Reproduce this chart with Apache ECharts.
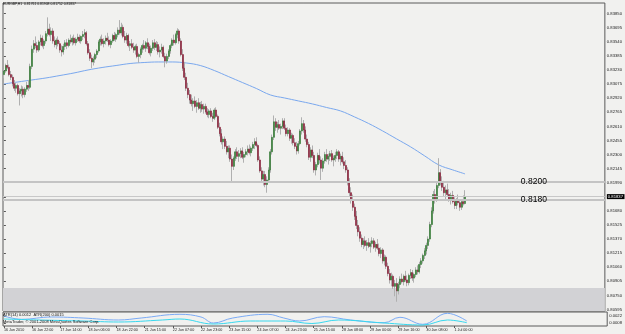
<!DOCTYPE html>
<html><head><meta charset="utf-8">
<script src="https://cdn.jsdelivr.net/npm/echarts@6/dist/echarts.min.js"></script>
<style>html,body{margin:0;padding:0;background:#f1f1ef}#c{width:625px;height:334px}</style>
</head><body><div id="c"></div>
<script>
const titleText = 'EURGBP,H1  0.81761 0.81908 0.81752 0.81837';
const atrText = 'ATR(14) 0.0012  ATR(200) 0.0015';
const copyText = 'MetaTrader, \u00a9 2001-2008 MetaQuotes Software Corp.';
const xLabels = ['16 Jun 2010','16 Jun 22:00','17 Jun 14:00','18 Jun 06:00','18 Jun 22:00','21 Jun 15:00','22 Jun 07:00','22 Jun 23:00','23 Jun 15:00','24 Jun 07:00','24 Jun 23:00','25 Jun 15:00','28 Jun 08:00','29 Jun 00:00','29 Jun 16:00','30 Jun 08:00','1 Jul 00:00'];
const barsPerLabel = 16;
const priceTicks = [0.80595,0.80750,0.80905,0.81060,0.81215,0.81370,0.81525,0.81680,0.81835,0.81990,0.82145,0.82300,0.82455,0.82610,0.82765,0.82920,0.83075,0.83230,0.83385,0.83540,0.83695,0.83850];
const atrTicks = [0.0008, 0.0022];
const levels = [0.8200, 0.8180];
const bidPrice = 0.81837;
const bandTop = 0.8083;
// [open, high, low, close]
const candles = [
[0.8318,0.8324,0.8314,0.8322],[0.8322,0.8330,0.8320,0.8328],[0.8328,0.8334,0.8324,0.8326],[0.8326,0.8329,0.8316,0.8318],[0.8318,0.8322,0.8312,0.8315],
[0.8315,0.8318,0.8305,0.8308],[0.8308,0.8312,0.8300,0.8303],[0.8303,0.8309,0.8298,0.8306],[0.8306,0.8308,0.8295,0.8297],[0.8297,0.8303,0.8284,0.8300],
[0.8300,0.8306,0.8294,0.8302],[0.8302,0.8305,0.8292,0.8296],[0.8296,0.8304,0.8293,0.8302],[0.8302,0.8310,0.8299,0.8306],[0.8306,0.8312,0.8300,0.8304],
[0.8304,0.8330,0.8302,0.8327],[0.8327,0.8350,0.8324,0.8346],[0.8346,0.8356,0.8342,0.8352],[0.8352,0.8360,0.8347,0.8350],[0.8350,0.8354,0.8342,0.8345],
[0.8345,0.8356,0.8343,0.8354],[0.8354,0.8362,0.8350,0.8358],[0.8358,0.8361,0.8348,0.8350],[0.8350,0.8357,0.8346,0.8355],[0.8355,0.8366,0.8352,0.8363],
[0.8363,0.8381,0.8360,0.8368],[0.8368,0.8374,0.8360,0.8362],[0.8362,0.8370,0.8355,0.8366],[0.8366,0.8369,0.8352,0.8355],[0.8355,0.8360,0.8348,0.8351],
[0.8351,0.8358,0.8346,0.8356],[0.8356,0.8360,0.8349,0.8352],[0.8352,0.8355,0.8342,0.8345],[0.8345,0.8350,0.8338,0.8343],[0.8343,0.8352,0.8340,0.8349],
[0.8349,0.8356,0.8345,0.8353],[0.8353,0.8357,0.8346,0.8350],[0.8350,0.8358,0.8348,0.8356],[0.8356,0.8362,0.8352,0.8354],[0.8354,0.8360,0.8350,0.8358],
[0.8358,0.8362,0.8351,0.8353],[0.8353,0.8359,0.8350,0.8357],[0.8357,0.8363,0.8354,0.8359],[0.8359,0.8362,0.8353,0.8355],[0.8355,0.8361,0.8352,0.8360],
[0.8360,0.8366,0.8356,0.8362],[0.8362,0.8368,0.8358,0.8364],[0.8364,0.8366,0.8350,0.8352],[0.8352,0.8355,0.8340,0.8342],[0.8342,0.8346,0.8333,0.8336],
[0.8336,0.8340,0.8325,0.8332],[0.8332,0.8338,0.8328,0.8335],[0.8335,0.8342,0.8331,0.8340],[0.8340,0.8346,0.8336,0.8344],[0.8344,0.8356,0.8342,0.8354],
[0.8354,0.8360,0.8350,0.8357],[0.8357,0.8362,0.8350,0.8352],[0.8352,0.8358,0.8348,0.8355],[0.8355,0.8361,0.8351,0.8358],[0.8358,0.8364,0.8354,0.8356],
[0.8356,0.8360,0.8349,0.8351],[0.8351,0.8357,0.8347,0.8355],[0.8355,0.8363,0.8353,0.8361],[0.8361,0.8365,0.8355,0.8357],[0.8357,0.8364,0.8354,0.8362],
[0.8362,0.8370,0.8359,0.8367],[0.8367,0.8378,0.8362,0.8364],[0.8364,0.8375,0.8361,0.8370],[0.8370,0.8373,0.8358,0.8360],[0.8360,0.8366,0.8353,0.8356],
[0.8356,0.8364,0.8352,0.8361],[0.8361,0.8363,0.8348,0.8350],[0.8350,0.8355,0.8344,0.8352],[0.8352,0.8357,0.8346,0.8348],[0.8348,0.8353,0.8342,0.8345],
[0.8345,0.8351,0.8340,0.8349],[0.8349,0.8352,0.8336,0.8338],[0.8338,0.8342,0.8331,0.8340],[0.8340,0.8348,0.8336,0.8346],[0.8346,0.8352,0.8342,0.8350],
[0.8350,0.8356,0.8345,0.8347],[0.8347,0.8355,0.8343,0.8353],[0.8353,0.8358,0.8346,0.8349],[0.8349,0.8352,0.8340,0.8342],[0.8342,0.8350,0.8338,0.8347],
[0.8347,0.8356,0.8344,0.8353],[0.8353,0.8357,0.8345,0.8348],[0.8348,0.8355,0.8344,0.8351],[0.8351,0.8354,0.8340,0.8343],[0.8343,0.8349,0.8337,0.8345],
[0.8345,0.8352,0.8341,0.8348],[0.8348,0.8350,0.8336,0.8338],[0.8338,0.8342,0.8326,0.8333],[0.8333,0.8341,0.8330,0.8338],[0.8338,0.8346,0.8335,0.8344],
[0.8344,0.8352,0.8341,0.8350],[0.8350,0.8358,0.8347,0.8356],[0.8356,0.8362,0.8350,0.8353],[0.8353,0.8364,0.8351,0.8362],[0.8362,0.8369,0.8358,0.8366],
[0.8366,0.8368,0.8352,0.8355],[0.8355,0.8358,0.8338,0.8340],[0.8340,0.8346,0.8322,0.8325],[0.8325,0.8332,0.8312,0.8315],[0.8315,0.8320,0.8300,0.8303],
[0.8303,0.8309,0.8292,0.8296],[0.8296,0.8301,0.8286,0.8290],[0.8290,0.8296,0.8283,0.8286],[0.8286,0.8292,0.8278,0.8289],[0.8289,0.8294,0.8281,0.8283],
[0.8283,0.8290,0.8276,0.8287],[0.8287,0.8292,0.8279,0.8281],[0.8281,0.8288,0.8276,0.8285],[0.8285,0.8289,0.8277,0.8280],[0.8280,0.8286,0.8275,0.8283],
[0.8283,0.8286,0.8275,0.8277],[0.8277,0.8281,0.8271,0.8274],[0.8274,0.8280,0.8270,0.8278],[0.8278,0.8281,0.8270,0.8272],[0.8272,0.8276,0.8266,0.8270],
[0.8270,0.8281,0.8268,0.8279],[0.8279,0.8282,0.8270,0.8272],[0.8272,0.8274,0.8258,0.8260],[0.8260,0.8265,0.8250,0.8253],[0.8253,0.8258,0.8241,0.8244],
[0.8244,0.8250,0.8236,0.8247],[0.8247,0.8250,0.8236,0.8239],[0.8239,0.8245,0.8230,0.8233],[0.8233,0.8240,0.8226,0.8237],[0.8237,0.8240,0.8222,0.8225],
[0.8225,0.8230,0.8200,0.8217],[0.8217,0.8228,0.8213,0.8226],[0.8226,0.8236,0.8223,0.8233],[0.8233,0.8238,0.8225,0.8228],[0.8228,0.8235,0.8222,0.8231],
[0.8231,0.8237,0.8226,0.8234],[0.8234,0.8238,0.8225,0.8227],[0.8227,0.8233,0.8221,0.8230],[0.8230,0.8236,0.8227,0.8233],[0.8233,0.8240,0.8229,0.8236],
[0.8236,0.8241,0.8230,0.8232],[0.8232,0.8239,0.8228,0.8237],[0.8237,0.8244,0.8234,0.8241],[0.8241,0.8248,0.8236,0.8244],[0.8244,0.8249,0.8238,0.8240],
[0.8240,0.8242,0.8222,0.8224],[0.8224,0.8228,0.8210,0.8212],[0.8212,0.8216,0.8200,0.8203],[0.8203,0.8212,0.8196,0.8208],[0.8208,0.8212,0.8194,0.8197],
[0.8197,0.8206,0.8188,0.8202],[0.8202,0.8216,0.8199,0.8213],[0.8213,0.8236,0.8210,0.8233],[0.8233,0.8252,0.8230,0.8249],[0.8249,0.8273,0.8246,0.8266],
[0.8266,0.8270,0.8256,0.8260],[0.8260,0.8266,0.8254,0.8263],[0.8263,0.8268,0.8257,0.8259],[0.8259,0.8264,0.8252,0.8261],[0.8261,0.8270,0.8258,0.8267],
[0.8267,0.8270,0.8257,0.8259],[0.8259,0.8263,0.8250,0.8253],[0.8253,0.8260,0.8250,0.8257],[0.8257,0.8259,0.8245,0.8248],[0.8248,0.8254,0.8242,0.8251],
[0.8251,0.8253,0.8240,0.8243],[0.8243,0.8248,0.8236,0.8239],[0.8239,0.8244,0.8230,0.8234],[0.8234,0.8245,0.8231,0.8242],[0.8242,0.8258,0.8240,0.8256],
[0.8256,0.8271,0.8252,0.8264],[0.8264,0.8268,0.8254,0.8257],[0.8257,0.8261,0.8244,0.8247],[0.8247,0.8252,0.8238,0.8241],[0.8241,0.8244,0.8224,0.8227],
[0.8227,0.8238,0.8222,0.8235],[0.8235,0.8240,0.8226,0.8229],[0.8229,0.8233,0.8210,0.8213],[0.8213,0.8222,0.8207,0.8219],[0.8219,0.8232,0.8216,0.8229],
[0.8229,0.8236,0.8220,0.8224],[0.8224,0.8228,0.8202,0.8215],[0.8215,0.8226,0.8211,0.8223],[0.8223,0.8233,0.8220,0.8230],[0.8230,0.8236,0.8222,0.8225],
[0.8225,0.8231,0.8219,0.8228],[0.8228,0.8234,0.8223,0.8231],[0.8231,0.8235,0.8222,0.8224],[0.8224,0.8229,0.8217,0.8226],[0.8226,0.8233,0.8222,0.8229],
[0.8229,0.8236,0.8225,0.8233],[0.8233,0.8235,0.8222,0.8225],[0.8225,0.8231,0.8218,0.8228],[0.8228,0.8233,0.8220,0.8222],[0.8222,0.8227,0.8214,0.8218],
[0.8218,0.8224,0.8210,0.8213],[0.8213,0.8216,0.8196,0.8199],[0.8199,0.8204,0.8184,0.8188],[0.8188,0.8194,0.8176,0.8180],[0.8180,0.8186,0.8168,0.8172],
[0.8172,0.8176,0.8158,0.8162],[0.8162,0.8168,0.8148,0.8152],[0.8152,0.8158,0.8140,0.8145],[0.8145,0.8150,0.8134,0.8138],[0.8138,0.8142,0.8128,0.8131],
[0.8131,0.8138,0.8126,0.8135],[0.8135,0.8140,0.8128,0.8130],[0.8130,0.8136,0.8124,0.8133],[0.8133,0.8138,0.8127,0.8129],[0.8129,0.8135,0.8122,0.8132],
[0.8132,0.8139,0.8128,0.8135],[0.8135,0.8138,0.8126,0.8128],[0.8128,0.8134,0.8123,0.8131],[0.8131,0.8137,0.8125,0.8127],[0.8127,0.8132,0.8118,0.8121],
[0.8121,0.8128,0.8116,0.8125],[0.8125,0.8127,0.8110,0.8113],[0.8113,0.8120,0.8108,0.8117],[0.8117,0.8119,0.8104,0.8107],[0.8107,0.8111,0.8096,0.8099],
[0.8099,0.8104,0.8088,0.8092],[0.8092,0.8100,0.8085,0.8096],[0.8096,0.8098,0.8082,0.8085],[0.8085,0.8092,0.8074,0.8088],[0.8088,0.8094,0.8068,0.8080],
[0.8080,0.8090,0.8076,0.8087],[0.8087,0.8096,0.8083,0.8093],[0.8093,0.8099,0.8088,0.8090],[0.8090,0.8098,0.8086,0.8096],[0.8096,0.8102,0.8090,0.8092],
[0.8092,0.8097,0.8085,0.8089],[0.8089,0.8099,0.8086,0.8097],[0.8097,0.8104,0.8093,0.8100],[0.8100,0.8103,0.8091,0.8094],[0.8094,0.8100,0.8089,0.8098],
[0.8098,0.8106,0.8095,0.8103],[0.8103,0.8108,0.8098,0.8101],[0.8101,0.8112,0.8099,0.8109],[0.8109,0.8116,0.8105,0.8113],[0.8113,0.8121,0.8110,0.8119],
[0.8119,0.8127,0.8115,0.8124],[0.8124,0.8133,0.8120,0.8130],[0.8130,0.8140,0.8126,0.8137],[0.8137,0.8156,0.8134,0.8153],[0.8153,0.8172,0.8150,0.8168],
[0.8168,0.8190,0.8165,0.8186],[0.8186,0.8192,0.8176,0.8181],[0.8181,0.8200,0.8178,0.8196],[0.8196,0.8226,0.8193,0.8210],[0.8210,0.8214,0.8196,0.8199],
[0.8199,0.8206,0.8190,0.8194],[0.8194,0.8201,0.8184,0.8188],[0.8188,0.8196,0.8181,0.8191],[0.8191,0.8198,0.8184,0.8186],[0.8186,0.8192,0.8178,0.8181],
[0.8181,0.8188,0.8175,0.8185],[0.8185,0.8190,0.8176,0.8178],[0.8178,0.8183,0.8170,0.8174],[0.8174,0.8182,0.8170,0.8179],[0.8179,0.8186,0.8174,0.8177],
[0.8177,0.8181,0.8168,0.8172],[0.8172,0.8180,0.8169,0.8178],[0.8178,0.8185,0.8174,0.8176],[0.81761,0.81908,0.81752,0.81837]
];
// moving average: [bar index, value]
const maPoints = [[0,0.83077],[8,0.83099],[16,0.83121],[24,0.83143],[32,0.83170],[40,0.83198],[48,0.83231],[56,0.83258],[64,0.83280],[72,0.83302],[80,0.83313],[88,0.83319],[96,0.83319],[104,0.83308],[112,0.83280],[120,0.83225],[128,0.83159],[136,0.83093],[144,0.83027],[152,0.82956],[160,0.82923],[168,0.82890],[176,0.82857],[184,0.82818],[192,0.82780],[200,0.82714],[208,0.82642],[216,0.82560],[224,0.82472],[232,0.82384],[240,0.82285],[248,0.82186],[256,0.82131],[263,0.82087]];
const atr14 = [[0,0.0022],[10,0.00154],[27,0.0020],[45,0.0018],[65,0.0014],[78,0.0018],[100,0.00254],[112,0.0020],[119,0.0008],[130,0.0018],[150,0.00254],[159,0.0018],[168,0.0012],[182,0.00206],[197,0.0014],[216,0.00086],[225,0.00194],[238,0.00054],[252,0.00274],[263,0.0012]];
const atr200 = [[0,0.0016],[20,0.0014],[45,0.0012],[65,0.0010],[90,0.0014],[100,0.0016],[119,0.0006],[140,0.0012],[160,0.0012],[175,0.0007],[190,0.0014],[216,0.0008],[238,0.0004],[252,0.0014],[263,0.00086]];

const chart = echarts.init(document.getElementById('c'), null, {renderer:'canvas'});
const font = 'Liberation Sans';
const wickData = candles.map((d,i)=>[i, d[0], d[3], d[2], d[1]]);
const bodyData = candles.map((d,i)=>[i, d[0], d[3], Math.min(d[0],d[3]), Math.max(d[0],d[3])]);
const xTickVals = xLabels.map((_,k)=>k*barsPerLabel);
const xMin = -0.5, xMax = 342.75;
const priceMin = 0.80578, priceMax = 0.83968;

chart.setOption({
  animation:false,
  backgroundColor:'#f1f1ef',
  textStyle:{fontFamily:font},
  title:[
    {text:titleText, left:3, top:3, padding:0, textStyle:{fontSize:3.4, fontWeight:'normal', color:'#111', fontFamily:font}},
    {text:atrText, left:3, top:313, padding:0, textStyle:{fontSize:4, fontWeight:'normal', color:'#111', fontFamily:font}},
    {text:copyText, left:3, top:320, padding:0, textStyle:{fontSize:4, fontWeight:'normal', color:'#111', fontFamily:font}}
  ],
  grid:[
    {left:3, top:3, width:605, height:308, show:true, borderColor:'#5a5a5a', borderWidth:1, backgroundColor:'transparent'},
    {left:3, top:312, width:605, height:14, show:true, borderColor:'#5a5a5a', borderWidth:1, backgroundColor:'transparent'}
  ],
  xAxis:[
    {type:'value', gridIndex:0, min:xMin, max:xMax, axisLine:{show:false}, axisTick:{show:false}, axisLabel:{show:false}, splitLine:{show:false}},
    {type:'value', gridIndex:1, min:xMin, max:xMax, axisLine:{show:false},
      axisTick:{show:true, customValues:xTickVals, length:2, lineStyle:{color:'#555'}},
      axisLabel:{customValues:xTickVals, formatter:v=>xLabels[Math.round(v/barsPerLabel)]||'', fontSize:3.7, color:'#222', align:'left', margin:2, fontFamily:font},
      splitLine:{show:false}}
  ],
  yAxis:[
    {type:'value', gridIndex:0, position:'right', min:priceMin, max:priceMax, axisLine:{show:false},
      axisTick:{show:true, customValues:priceTicks, length:2, lineStyle:{color:'#555'}},
      axisLabel:{customValues:priceTicks, formatter:v=>v.toFixed(5), fontSize:4.2, color:'#222', margin:2, fontFamily:font},
      splitLine:{show:false}},
    {type:'value', gridIndex:1, position:'right', min:0.0002, max:0.0030, axisLine:{show:false},
      axisTick:{show:true, customValues:atrTicks, length:2, lineStyle:{color:'#555'}},
      axisLabel:{customValues:atrTicks, formatter:v=>v.toFixed(4), fontSize:4.2, color:'#222', margin:2, fontFamily:font},
      splitLine:{show:false}}
  ],
  series:[
    {type:'line', xAxisIndex:0, yAxisIndex:0, data:maPoints, smooth:0.4, symbol:'none', z:2, lineStyle:{color:'#7aa8ee', width:1}, silent:true,
      markArea:{silent:true, itemStyle:{color:'#d2d2d5'}, data:[[{yAxis:bandTop},{yAxis:priceMin}]]},
      markLine:{silent:true, symbol:'none', precision:5, animation:false,
        data:[
          {yAxis:levels[0], lineStyle:{color:'#c4c4c4', width:2, type:'solid'}, label:{show:true, position:'insideEnd', distance:58, formatter:levels[0].toFixed(4), color:'#000', fontSize:8.5, fontFamily:font}},
          {yAxis:levels[1], lineStyle:{color:'#c4c4c4', width:2, type:'solid'}, label:{show:true, position:'insideEnd', distance:58, formatter:levels[1].toFixed(4), color:'#000', fontSize:8.5, fontFamily:font}},
          {yAxis:bidPrice, lineStyle:{color:'#c8c8c8', width:1, type:'solid'}, label:{show:true, position:'end', distance:2, formatter:bidPrice.toFixed(5), color:'#fff', backgroundColor:'#000', padding:[0.5,1.5,0.5,1], fontSize:4.2, fontFamily:font}}
        ]}
    },
    {type:'candlestick', xAxisIndex:0, yAxisIndex:0, data:wickData, encode:{x:0, y:[1,2,3,4]}, barWidth:1, z:3, silent:true,
      itemStyle:{color:'#b0b0b0', color0:'#b0b0b0', borderColor:'#b0b0b0', borderColor0:'#b0b0b0', borderWidth:1}},
    {type:'candlestick', xAxisIndex:0, yAxisIndex:0, data:bodyData, encode:{x:0, y:[1,2,3,4]}, barWidth:1.5, z:4, silent:true,
      itemStyle:{color:'#3d803d', color0:'#8c2a40', borderColor:'#3d803d', borderColor0:'#8c2a40', borderWidth:0.7}},
    {type:'line', xAxisIndex:1, yAxisIndex:1, data:atr14, smooth:0.4, symbol:'none', lineStyle:{color:'#7aaaf5', width:1}, silent:true},
    {type:'line', xAxisIndex:1, yAxisIndex:1, data:atr200, smooth:0.4, symbol:'none', lineStyle:{color:'#38d8ee', width:1}, silent:true}
  ]
});
</script></body></html>
